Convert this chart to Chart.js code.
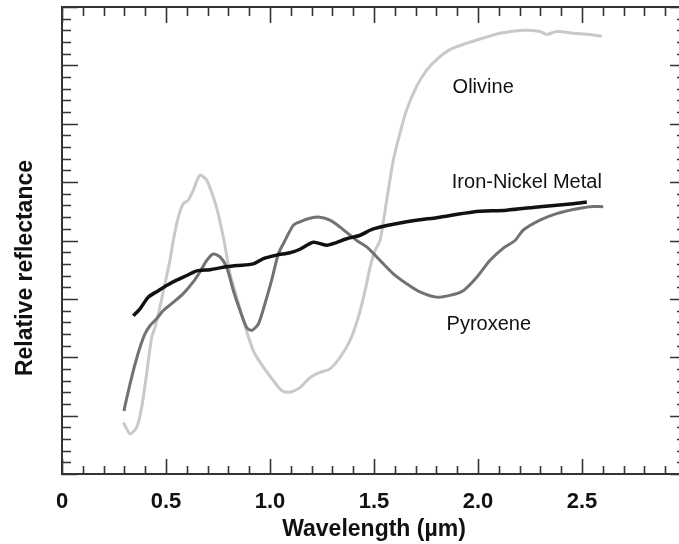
<!DOCTYPE html>
<html>
<head>
<meta charset="utf-8">
<script src="https://cdn.jsdelivr.net/npm/chart.js@4.4.1/dist/chart.umd.min.js"></script>
<style>
html, body { margin: 0; padding: 0; background: #fff; overflow: hidden; }
#wrap { width: 690px; height: 544px; }
</style>
</head>
<body>
<div id="wrap"><canvas id="chart" width="690" height="544" style="width:690px;height:544px"></canvas></div>
<script>
// wavelength (µm) / relative reflectance
var olivineX = [0.295,0.327,0.359,0.383,0.407,0.431,0.447,0.471,0.495,0.519,0.535,0.559,0.583,0.607,0.631,0.663,0.696,0.727,0.751,0.768,0.779,0.808,0.840,0.872,0.920,0.968,1.016,1.056,1.096,1.144,1.192,1.240,1.288,1.337,1.385,1.425,1.457,1.481,1.505,1.529,1.561,1.593,1.625,1.657,1.705,1.753,1.801,1.865,1.946,2.026,2.106,2.218,2.298,2.330,2.378,2.458,2.538,2.595];
var olivineY = [0.88,0.69,0.80,1.14,1.72,2.34,2.51,2.86,3.26,3.66,4.00,4.40,4.63,4.69,4.86,5.12,5.03,4.75,4.46,4.18,4.00,3.43,3.03,2.63,2.11,1.83,1.60,1.43,1.40,1.48,1.65,1.74,1.80,2.00,2.29,2.69,3.14,3.54,3.83,4.00,4.69,5.38,5.84,6.24,6.64,6.92,7.10,7.27,7.38,7.47,7.55,7.60,7.58,7.53,7.58,7.55,7.53,7.50];

var pyroxeneX = [0.298,0.303,0.327,0.351,0.375,0.399,0.423,0.455,0.487,0.535,0.583,0.631,0.663,0.696,0.727,0.760,0.792,0.824,0.856,0.888,0.912,0.944,0.976,1.008,1.040,1.072,1.112,1.144,1.192,1.240,1.288,1.337,1.385,1.417,1.465,1.529,1.593,1.657,1.721,1.801,1.865,1.929,1.994,2.058,2.122,2.178,2.218,2.298,2.378,2.458,2.538,2.602];
var pyroxeneY = [1.08,1.17,1.54,1.88,2.17,2.40,2.54,2.66,2.80,2.94,3.09,3.29,3.46,3.66,3.77,3.72,3.54,3.14,2.80,2.51,2.46,2.57,2.92,3.32,3.77,4.00,4.26,4.32,4.38,4.40,4.35,4.23,4.09,4.00,3.89,3.66,3.43,3.26,3.12,3.03,3.06,3.14,3.37,3.66,3.87,4.00,4.18,4.35,4.46,4.53,4.58,4.58];

var metalX = [0.343,0.375,0.415,0.463,0.503,0.551,0.600,0.648,0.712,0.775,0.840,0.920,0.968,1.032,1.096,1.144,1.208,1.273,1.369,1.433,1.497,1.657,1.817,1.977,2.138,2.298,2.458,2.523];
var metalY = [2.71,2.83,3.03,3.14,3.23,3.32,3.40,3.48,3.50,3.54,3.57,3.60,3.69,3.75,3.79,3.85,3.97,3.92,4.03,4.09,4.20,4.32,4.40,4.49,4.52,4.58,4.63,4.66];

var xTickValues = [0, 0.5, 1.0, 1.5, 2.0, 2.5];
var xTickLabels = ['0', '0.5', '1.0', '1.5', '2.0', '2.5'];

// curve names and where they sit (data units, left edge / baseline)
var curveNames = ['Olivine', 'Iron-Nickel Metal', 'Pyroxene'];
var nameX = [1.878, 1.874, 1.849];
var nameY = [6.53, 4.90, 2.47];

var FONT = '"Liberation Sans", Arial, sans-serif';
Chart.defaults.font.family = FONT;

function toPoints(xs, ys) {
    return xs.map(function(x, i) { return {x: x, y: ys[i]}; });
}

var framePlugin = {
    id: 'frame',
    beforeDatasetsDraw: function(chart) {
        var ctx = chart.ctx, a = chart.chartArea;
        var sx = chart.scales.x, sy = chart.scales.y;
        ctx.save();
        ctx.strokeStyle = '#333';
        ctx.lineWidth = 2;
        ctx.strokeRect(a.left, a.top, a.right - a.left, a.bottom - a.top);
        ctx.lineWidth = 1.6;
        ctx.beginPath();
        for (var i = 0; i <= 30; i++) {
            var px = Math.round(sx.getPixelForValue(i / 10)) + 0.5;
            var len = i % 5 === 0 ? 15 : 8;
            ctx.moveTo(px, a.bottom); ctx.lineTo(px, a.bottom - len);
            ctx.moveTo(px, a.top); ctx.lineTo(px, a.top + len + 1);
        }
        for (var j = 0; j <= 40; j++) {
            var py = Math.round(sy.getPixelForValue(j / 5)) + 0.5;
            var l = j % 5 === 0 ? 16 : 9;
            ctx.moveTo(a.left, py); ctx.lineTo(a.left + l, py);
            ctx.moveTo(a.right, py); ctx.lineTo(a.right - l, py);
        }
        ctx.stroke();
        ctx.restore();
    },
    afterDraw: function(chart) {
        var ctx = chart.ctx;
        var sx = chart.scales.x, sy = chart.scales.y;
        ctx.save();
        ctx.fillStyle = '#111';
        ctx.font = '20px ' + FONT;
        ctx.textAlign = 'left';
        ctx.textBaseline = 'alphabetic';
        curveNames.forEach(function(name, i) {
            ctx.fillText(name, sx.getPixelForValue(nameX[i]), sy.getPixelForValue(nameY[i]));
        });
        // y axis title, sits a bit below the middle in the original
        ctx.font = 'bold 23px ' + FONT;
        ctx.textAlign = 'center';
        ctx.textBaseline = 'middle';
        ctx.translate(26, 268);
        ctx.rotate(-Math.PI / 2);
        ctx.fillText('Relative reflectance', 0, 0);
        ctx.restore();
    }
};

new Chart(document.getElementById('chart'), {
    type: 'line',
    data: {
        datasets: [{
            label: 'Iron-Nickel Metal',
            data: toPoints(metalX, metalY),
            borderColor: '#111',
            borderWidth: 3.5
        }, {
            label: 'Pyroxene',
            data: toPoints(pyroxeneX, pyroxeneY),
            borderColor: '#727272',
            borderWidth: 3
        }, {
            label: 'Olivine',
            data: toPoints(olivineX, olivineY),
            borderColor: '#c9c9c9',
            borderWidth: 3
        }]
    },
    options: {
        responsive: false,
        animation: false,
        devicePixelRatio: 1,
        layout: {
            padding: {left: 62, right: 4, top: 7, bottom: 0}
        },
        elements: {
            point: {radius: 0},
            line: {tension: 0.25}
        },
        plugins: {
            legend: {display: false},
            tooltip: {enabled: false}
        },
        scales: {
            x: {
                type: 'linear',
                min: 0,
                max: 3.0,
                grid: {display: false, drawTicks: false},
                border: {display: false},
                afterBuildTicks: function(scale) {
                    scale.ticks = xTickValues.map(function(v) { return {value: v}; });
                },
                ticks: {
                    color: '#111',
                    font: {size: 22, weight: 'bold'},
                    padding: 15,
                    maxRotation: 0,
                    autoSkip: false,
                    callback: function(value, index) {
                        return xTickLabels[index];
                    }
                },
                title: {
                    display: true,
                    text: 'Wavelength (µm)',
                    color: '#111',
                    font: {size: 23, weight: 'bold'},
                    padding: {top: -15, bottom: 1}
                }
            },
            y: {
                display: false,
                min: 0,
                max: 8
            }
        }
    },
    plugins: [framePlugin]
});
</script>
</body>
</html>
